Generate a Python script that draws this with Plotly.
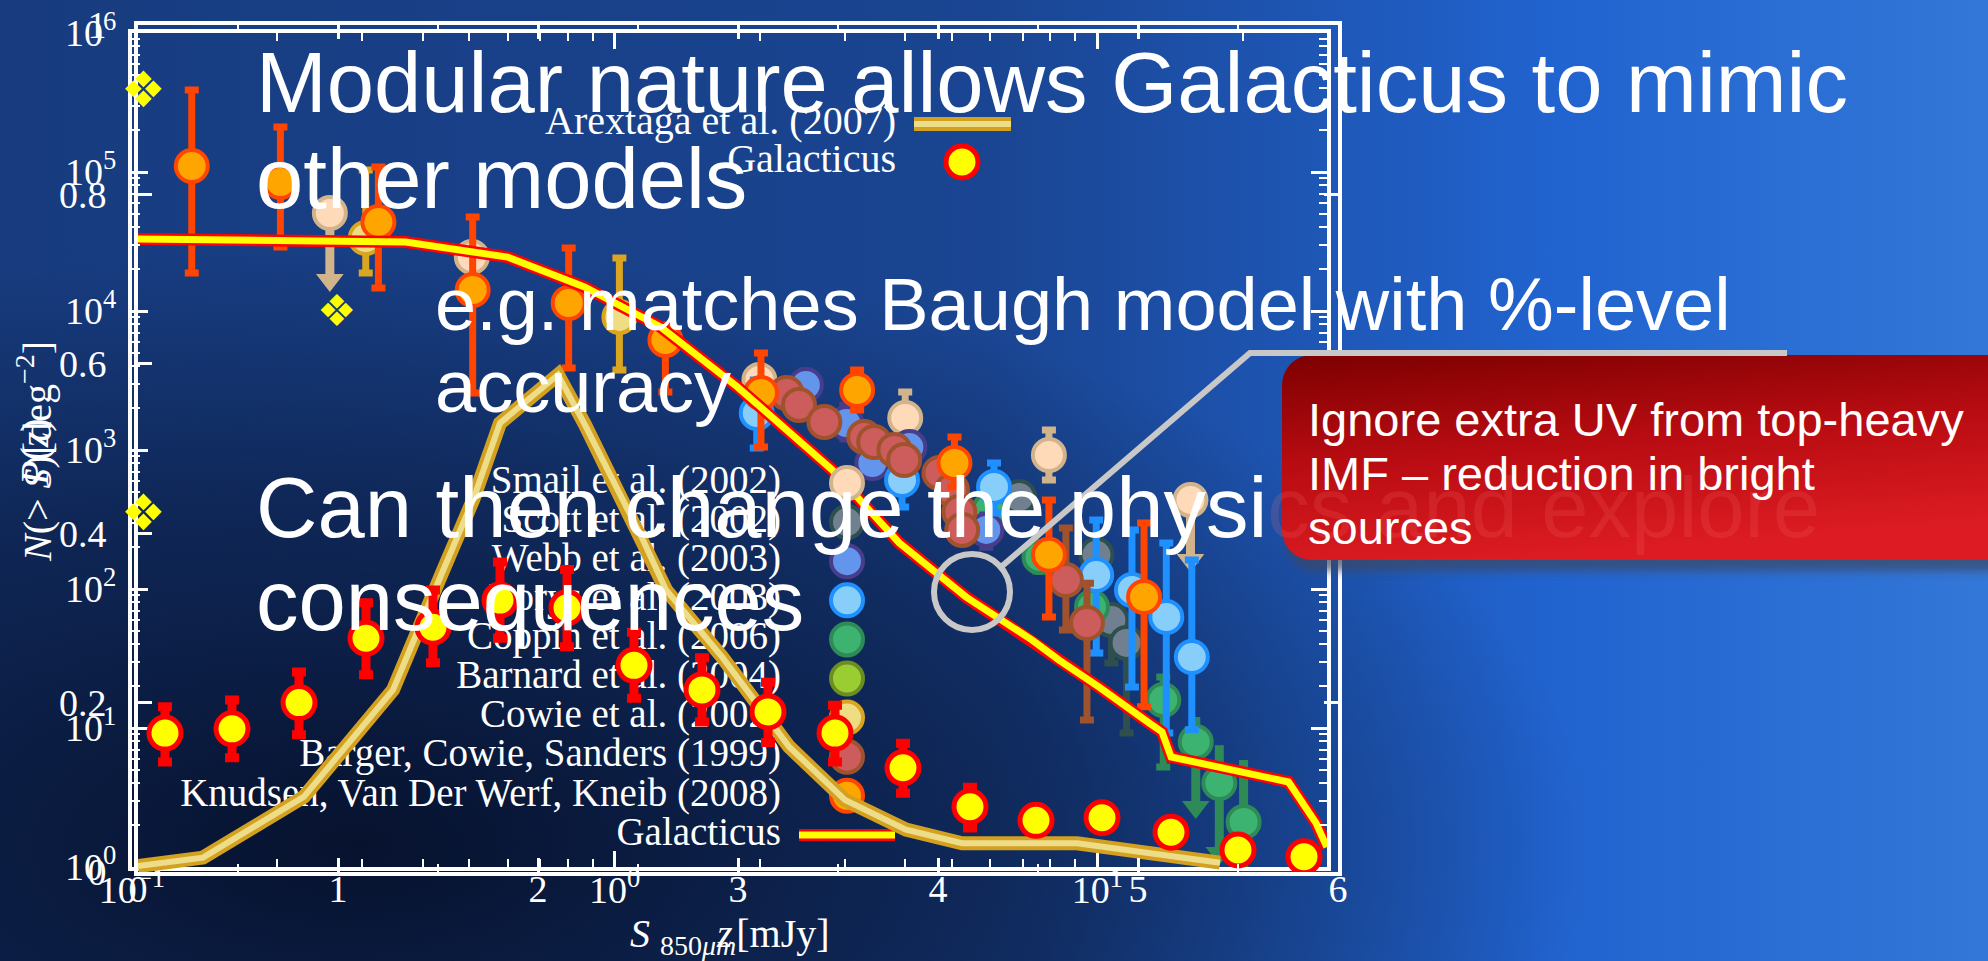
import base64
import plotly.graph_objects as go

W, H = 1988, 961

# ---------------- Number counts: N(>S) [deg^-2] versus S_850um [mJy] ----------------
knudsen_S = [0.133, 0.203, 0.324, 0.508, 0.803, 1.274, 2.01, 3.18, 5.06, 7.94, 12.5]
knudsen_N = [110400, 84700, 43650, 14160, 11420, 6185, 2570, 2700, 806, 176, 87.6]
knudsen_hi = [389000, 210800, 108700, 47450, 28400, 7925, 4985, 3765, 1241, 437, 298]
knudsen_lo = [18770, 28850, 14630, 2570, 3890, 2612, 1050, 1940, 542, 63, 14.2]

smail_S = [0.257, 0.506, 1.995, 4.0, 7.94, 15.6]
smail_N = [50700, 24450, 3190, 1700, 920, 437]
smail_hi = [50700, 30000, 3600, 2612, 1393, 437]
smail_lo = [16700, 20000, 2800, 1180, 608, 162]
smail_limit = [True, False, False, False, False, True]

cowie_S = [0.305, 1.023]
cowie_N = [33500, 9060]
cowie_hi = [103300, 24050]
cowie_lo = [18770, 3765]

barger_S = [2.27, 2.41, 2.72, 3.29, 3.45, 3.80, 3.98, 4.71, 5.00, 5.18, 5.25, 8.61, 9.52]
barger_N = [2570, 2110, 1590, 1241, 1142, 1000, 847, 684, 515, 358, 266, 116, 56.9]
barger_hi = [2950, 2420, 1830, 1430, 1310, 1150, 975, 790, 600, 415, 330, 275, 110]
barger_lo = [2240, 1840, 1380, 1080, 995, 870, 735, 595, 440, 300, 215, 50.7, 11.4]

webb_S = [2.49, 3.02, 3.42, 4.08, 5.89]
webb_N = [2935, 1563, 806, 1050, 266]
webb_hi = [3700, 2100, 1000, 1300, 340]
webb_lo = [2300, 1200, 650, 850, 200]

borys_S = [1.97, 3.94, 6.11, 9.95, 11.8, 13.9, 15.7]
borys_N = [1846, 608, 542, 126, 98.4, 62.9, 32.4]
borys_hi = [3190, 920, 806, 313, 266, 214, 162]
borys_lo = [1033, 389, 352, 34.7, 19.7, 9.2, 9.7]

scott_S = [6.89, 9.96, 10.7, 11.5]
scott_N = [459, 176, 59.8, 40.9]
scott_hi = [560, 215, 75, 52]
scott_lo = [375, 34.7, 29.4, 9.2]

coppin_S = [5.97, 7.59, 9.75, 13.7, 16.0, 17.9, 20.1]
coppin_N = [370, 170, 74.2, 15.9, 7.93, 4.02, 2.11]
coppin_hi = [450, 210, 92, 23.3, 12.0, 7.5, 5.89]
coppin_lo = [300, 135, 58, 5.24, 2.70, 1.26, 0.72]
coppin_limit = [False, False, False, False, True, True, True]

gal_counts_S = [0.1029, 0.369, 0.600, 0.866, 1.245, 1.499, 1.797, 2.826, 3.889, 5.352,
                7.332, 8.335, 10.09, 12.80, 13.62, 14.22, 24.9, 25.8, 28.4, 29.9]
gal_counts_N = [32960, 31330, 24430, 14890, 7674, 4667, 2838, 717.8, 214.3, 87.5,
                42.9, 30.8, 19.7, 10.9, 9.36, 6.19, 4.09, 3.41, 2.07, 1.39]

# ---------------- Redshift distribution P(z) ----------------
arex_z = [0.0, 0.325, 0.83, 1.275, 1.52, 1.675, 1.81, 2.10, 2.235, 2.525, 2.64, 2.92,
          3.255, 3.535, 3.84, 4.12, 4.695, 5.41]
arex_P = [0.007, 0.017, 0.089, 0.215, 0.353, 0.439, 0.530, 0.587, 0.528, 0.392, 0.333, 0.254,
          0.148, 0.085, 0.050, 0.034, 0.034, 0.011]

gal_z = [-0.04, 0.135, 0.47, 0.805, 1.14, 1.475, 1.81, 2.145, 2.48, 2.82, 3.15, 3.485,
         3.825, 4.16, 4.49, 4.82, 5.165, 5.5, 5.83]
gal_P = [0.006, 0.164, 0.169, 0.200, 0.276, 0.289, 0.321, 0.312, 0.244, 0.215, 0.189, 0.164,
         0.123, 0.077, 0.061, 0.064, 0.047, 0.026, 0.018]
gal_P_hi = [0.006, 0.195, 0.203, 0.236, 0.318, 0.333, 0.366, 0.357, 0.283, 0.253, 0.224, 0.197,
            0.152, 0.100, 0.073, 0.074, 0.052, 0.030, 0.021]
gal_P_lo = [0.006, 0.130, 0.135, 0.162, 0.233, 0.247, 0.276, 0.266, 0.205, 0.177, 0.153, 0.130,
            0.093, 0.052, 0.049, 0.054, 0.042, 0.022, 0.015]

# ---------------- Tick labels ----------------
counts_xtick_vals = [0.1, 1, 10]
counts_xtick_text = ["10<sup>−1</sup>", "10<sup>0</sup>", "10<sup>1</sup>"]
counts_ytick_vals = [1, 10, 100, 1000, 10000, 100000, 1000000]
counts_ytick_text = ["10<sup>0</sup>", "10<sup>1</sup>", "10<sup>2</sup>", "10<sup>3</sup>",
                     "10<sup>4</sup>", "10<sup>5</sup>", "10<sup>6</sup>"]
pz_xtick_vals = [0, 1, 2, 3, 4, 5, 6]
pz_xtick_text = ["0", "1", "2", "3", "4", "5", "6"]
pz_ytick_vals = [0, 0.2, 0.4, 0.6, 0.8, 1.0]
pz_ytick_text = ["0", "0.2", "0.4", "0.6", "0.8", "1"]

# ---------------- Legends ----------------
legend_a_labels = ["Smail et al. (2002)", "Scott et al. (2002)", "Webb et al. (2003)",
                   "Borys et al. (2003)", "Coppin et al. (2006)", "Barnard et al. (2004)",
                   "Cowie et al. (2002)", "Barger, Cowie, Sanders (1999)",
                   "Knudsen, Van Der Werf, Kneib (2008)", "Galacticus"]
legend_a_fill = ["#FFDAB9", "#708090", "#6495ED", "#87CEFA", "#3CB371", "#9ACD32",
                 "#EEDD82", "#CD5C5C", "#FFA500"]
legend_a_edge = ["#D2B48C", "#2F4F4F", "#483D8B", "#1E90FF", "#2E8B57", "#6B8E23",
                 "#DAA520", "#A0522D", "#FF4500"]
legend_b_labels = ["Arextaga et al. (2007)", "Galacticus"]

# slide text
slide_lines = ["Modular nature allows Galacticus to mimic", "other models",
               "e.g. matches Baugh model with %-level", "accuracy",
               "Can then change the physi", "consequences"]
callout_lines = ["Ignore extra UV from top-heavy", "IMF – reduction in bright", "sources"]

# ---------------- styling / layout constants ----------------
SERIF = "Liberation Serif"
SANS = "Liberation Sans"
A_X = (132, 1327)   # pixel extents of the counts frame
A_Y = (33, 867)
B_X = (138, 1338)   # pixel extents of the P(z) frame
B_Y = (25, 872)
MSIZE = 32

fig = go.Figure()


def add_points(S, N, hi, lo, fill, edge, bar, xa, ya, limit=None, size=MSIZE, lw=4,
               thick=7, capw=7):
    n = len(S)
    lim = limit if limit is not None else [False] * n
    norm = [i for i in range(n) if not lim[i]]
    lims = [i for i in range(n) if lim[i]]
    if lims:
        fig.add_trace(go.Scatter(
            x=[S[i] for i in lims], y=[lo[i] for i in lims], mode="markers",
            marker=dict(symbol="triangle-down", size=24, color=bar),
            xaxis=xa, yaxis=ya, hoverinfo="skip"))
        fig.add_trace(go.Scatter(
            x=[S[i] for i in lims], y=[N[i] for i in lims], mode="markers",
            marker=dict(size=size, color=fill, line=dict(color=edge, width=lw)),
            error_y=dict(type="data", symmetric=False,
                         array=[hi[i] - N[i] for i in lims],
                         arrayminus=[N[i] - lo[i] for i in lims],
                         color=bar, thickness=thick + 2, width=0),
            xaxis=xa, yaxis=ya, hoverinfo="skip"))
    if norm:
        fig.add_trace(go.Scatter(
            x=[S[i] for i in norm], y=[N[i] for i in norm], mode="markers",
            marker=dict(size=size, color=fill, line=dict(color=edge, width=lw)),
            error_y=dict(type="data", symmetric=False,
                         array=[hi[i] - N[i] for i in norm],
                         arrayminus=[N[i] - lo[i] for i in norm],
                         color=bar, thickness=thick, width=capw),
            xaxis=xa, yaxis=ya, hoverinfo="skip", cliponaxis=False))


# ---- counts plot (x, y) ----
add_points(smail_S, smail_N, smail_hi, smail_lo, "#FFDAB9", "#D2B48C", "#D2B48C", "x", "y", smail_limit)
add_points(cowie_S, cowie_N, cowie_hi, cowie_lo, "#EEDD82", "#DAA520", "#DAA520", "x", "y")
add_points(scott_S, scott_N, scott_hi, scott_lo, "#708090", "#2F4F4F", "#2F4F4F", "x", "y")
add_points(coppin_S, coppin_N, coppin_hi, coppin_lo, "#3CB371", "#2E8B57", "#2E8B57", "x", "y", coppin_limit)
add_points(webb_S, webb_N, webb_hi, webb_lo, "#6495ED", "#483D8B", "#483D8B", "x", "y")
add_points(borys_S, borys_N, borys_hi, borys_lo, "#87CEFA", "#1E90FF", "#1E90FF", "x", "y")
add_points(barger_S, barger_N, barger_hi, barger_lo, "#CD5C5C", "#A0522D", "#A0522D", "x", "y")
add_points(knudsen_S, knudsen_N, knudsen_hi, knudsen_lo, "#FFA500", "#FF4500", "#FF4500", "x", "y")

fig.add_trace(go.Scatter(x=gal_counts_S, y=gal_counts_N, mode="lines",
                         line=dict(color="#FF0000", width=12), xaxis="x", yaxis="y", hoverinfo="skip"))
fig.add_trace(go.Scatter(x=gal_counts_S, y=gal_counts_N, mode="lines",
                         line=dict(color="#FFFF00", width=7), xaxis="x", yaxis="y", hoverinfo="skip"))

# ---- legends in pixel overlay (x2, y2) ----
LEG_A_TEXT_X, LEG_A_SYM_X, LEG_A_TOP, LEG_A_STEP = 781, 847, 483, 39.1
leg_a_y = [LEG_A_TOP + LEG_A_STEP * i for i in range(len(legend_a_labels))]
fig.add_trace(go.Scatter(x=[LEG_A_TEXT_X] * len(legend_a_labels), y=leg_a_y, mode="text",
                         text=legend_a_labels, textposition="middle left",
                         textfont=dict(family=SERIF, size=39, color="white"),
                         xaxis="x2", yaxis="y2", hoverinfo="skip"))
fig.add_trace(go.Scatter(x=[LEG_A_SYM_X] * len(legend_a_fill), y=leg_a_y[:len(legend_a_fill)],
                         mode="markers",
                         marker=dict(size=MSIZE, color=legend_a_fill, line=dict(color=legend_a_edge, width=4)),
                         xaxis="x2", yaxis="y2", hoverinfo="skip"))
for col, wd in (("#FF0000", 12), ("#FFFF00", 7)):
    fig.add_trace(go.Scatter(x=[799, 895], y=[leg_a_y[-1]] * 2, mode="lines",
                             line=dict(color=col, width=wd), xaxis="x2", yaxis="y2", hoverinfo="skip"))

LEG_B_TEXT_X, LEG_B_Y = 896, [124, 162]
fig.add_trace(go.Scatter(x=[LEG_B_TEXT_X] * 2, y=LEG_B_Y, mode="text", text=legend_b_labels,
                         textposition="middle left",
                         textfont=dict(family=SERIF, size=40, color="white"),
                         xaxis="x2", yaxis="y2", hoverinfo="skip"))
for col, wd in (("#D4A020", 14), ("#EEDD88", 6)):
    fig.add_trace(go.Scatter(x=[914, 1011], y=[LEG_B_Y[0]] * 2, mode="lines",
                             line=dict(color=col, width=wd), xaxis="x2", yaxis="y2", hoverinfo="skip"))
fig.add_trace(go.Scatter(x=[962], y=[LEG_B_Y[1]], mode="markers",
                         marker=dict(size=MSIZE, color="#FFFF00", line=dict(color="#FF0000", width=5)),
                         xaxis="x2", yaxis="y2", hoverinfo="skip"))

# ---- P(z) plot (x3, y3) ----
for col, wd in (("#D4A020", 14), ("#EEDD88", 6)):
    fig.add_trace(go.Scatter(x=arex_z, y=arex_P, mode="lines", line=dict(color=col, width=wd),
                             xaxis="x3", yaxis="y3", hoverinfo="skip"))
fig.add_trace(go.Scatter(
    x=gal_z, y=gal_P, mode="markers",
    marker=dict(size=MSIZE, color="#FFFF00", line=dict(color="#FF0000", width=5)),
    error_y=dict(type="data", symmetric=False,
                 array=[h - p for h, p in zip(gal_P_hi, gal_P)],
                 arrayminus=[p - l for p, l in zip(gal_P, gal_P_lo)],
                 color="#FF0000", thickness=9, width=7),
    xaxis="x3", yaxis="y3", hoverinfo="skip", cliponaxis=False))

# ---------------- axes ----------------
def px_dom_x(a, b):
    return [a / W, b / W]


def px_dom_y(top, bottom):
    return [1 - bottom / H, 1 - top / H]


tickfont = dict(family=SERIF, size=38, color="white")
frame = dict(showline=True, linecolor="white", linewidth=4, mirror="allticks", ticks="inside",
             tickcolor="white", tickwidth=3, showgrid=False, zeroline=False, tickfont=tickfont,
             automargin=False)

minor_log_x = [m * 10.0 ** k for k in (-1, 0, 1) for m in range(2, 10)]
minor_log_y = [m * 10.0 ** k for k in range(0, 6) for m in range(2, 10)]

fig.update_layout(
    template="none",
    xaxis=dict(frame, type="log", domain=px_dom_x(*A_X), range=[-1, 1.476], anchor="y",
               tickmode="array", tickvals=counts_xtick_vals, ticktext=counts_xtick_text, ticklen=16,
               ticklabelstandoff=-14,
               minor=dict(tickmode="array", tickvals=minor_log_x, ticks="inside", ticklen=8,
                          tickwidth=2, tickcolor="white", showgrid=False)),
    yaxis=dict(frame, type="log", domain=px_dom_y(*A_Y), range=[0, 6], anchor="x",
               tickmode="array", tickvals=counts_ytick_vals, ticktext=counts_ytick_text, ticklen=16,
               ticklabelstandoff=4,
               minor=dict(tickmode="array", tickvals=minor_log_y, ticks="inside", ticklen=8,
                          tickwidth=2, tickcolor="white", showgrid=False)),
    xaxis2=dict(domain=[0, 1], range=[0, W], visible=False, anchor="y2", fixedrange=True,
                automargin=False),
    yaxis2=dict(domain=[0, 1], range=[H, 0], visible=False, anchor="x2", fixedrange=True,
                automargin=False),
    xaxis3=dict(frame, domain=px_dom_x(*B_X), range=[0, 6], anchor="y3",
                tickmode="array", tickvals=pz_xtick_vals, ticktext=pz_xtick_text, ticklen=14,
                ticklabelstandoff=-20,
                minor=dict(dtick=0.5, ticks="inside", ticklen=8, tickwidth=2, tickcolor="white",
                           showgrid=False)),
    yaxis3=dict(frame, domain=px_dom_y(*B_Y), range=[0, 1], anchor="x3",
                tickmode="array", tickvals=pz_ytick_vals, ticktext=pz_ytick_text, ticklen=14,
                ticklabelstandoff=20),
)

# ---------------- background & callout box images ----------------
bg_svg = f'''<svg xmlns="http://www.w3.org/2000/svg" width="{W}" height="{H}" viewBox="0 0 {W} {H}" preserveAspectRatio="none">
<defs>
<linearGradient id="g" x1="0" y1="0" x2="1" y2="0">
<stop offset="0" stop-color="#173b7e"/>
<stop offset="0.5" stop-color="#1a4592"/>
<stop offset="0.78" stop-color="#2163cf"/>
<stop offset="1" stop-color="#3377d8"/>
</linearGradient>
<radialGradient id="r" cx="0.18" cy="0.88" r="0.62">
<stop offset="0" stop-color="#050e26" stop-opacity="0.92"/>
<stop offset="0.6" stop-color="#050e26" stop-opacity="0.45"/>
<stop offset="1" stop-color="#050e26" stop-opacity="0"/>
</radialGradient>
</defs>
<rect width="{W}" height="{H}" fill="url(#g)"/>
<rect width="{W}" height="{H}" fill="url(#r)"/>
</svg>'''

BOX_X, BOX_Y, BOX_W, BOX_H = 1282, 350, W - 1282 + 20, 235
box_svg = f'''<svg xmlns="http://www.w3.org/2000/svg" width="{BOX_W}" height="{BOX_H}" viewBox="0 0 {BOX_W} {BOX_H}" preserveAspectRatio="none">
<defs>
<linearGradient id="b" x1="0" y1="0" x2="0.3" y2="1">
<stop offset="0" stop-color="#7d0000"/>
<stop offset="0.5" stop-color="#b80c12"/>
<stop offset="1" stop-color="#dc1c22"/>
</linearGradient>
<filter id="s" x="-10%" y="-10%" width="130%" height="140%"><feGaussianBlur stdDeviation="5"/></filter>
</defs>
<rect x="4" y="16" width="{BOX_W + 40}" height="205" rx="30" fill="#3c4660" opacity="0.7" filter="url(#s)"/>
<rect x="0" y="5" width="{BOX_W + 40}" height="205" rx="30" fill="url(#b)"/>
</svg>'''


def data_uri(svg):
    return "data:image/svg+xml;base64," + base64.b64encode(svg.encode("utf-8")).decode("ascii")


fig.update_layout(images=[
    dict(source=data_uri(bg_svg), xref="paper", yref="paper", x=0, y=1, sizex=1, sizey=1,
         xanchor="left", yanchor="top", sizing="stretch", layer="below"),
    dict(source=data_uri(box_svg), xref="paper", yref="paper", x=BOX_X / W, y=1 - BOX_Y / H,
         sizex=BOX_W / W, sizey=BOX_H / H, xanchor="left", yanchor="top", sizing="stretch",
         layer="above"),
])

# callout circle + connector
GREY = "#c8c8c8"
fig.update_layout(shapes=[
    dict(type="circle", xref="x2", yref="y2", x0=934, x1=1010, y0=554, y1=630,
         line=dict(color=GREY, width=6), layer="above"),
    dict(type="path", xref="x2", yref="y2", path="M 1001,567 L 1250,353 L 1787,353",
         line=dict(color=GREY, width=6), layer="above"),
])

# ---------------- annotations ----------------
anns = []


def ann(text, x, y, size, family=SANS, color="white", xanchor="left", angle=0):
    anns.append(dict(text=text, x=x, y=y, xref="x2", yref="y2", showarrow=False,
                     xanchor=xanchor, yanchor="middle", textangle=angle,
                     font=dict(family=family, size=size, color=color)))


# slide bullets
ann("❖", 143, 90, 50, family="DejaVu Sans", color="#FFFF00", xanchor="center")
ann("❖", 336, 310, 44, family="DejaVu Sans", color="#FFFF00", xanchor="center")
ann("❖", 143, 513, 50, family="DejaVu Sans", color="#FFFF00", xanchor="center")

ann(slide_lines[0], 254, 82, 85)
ann(slide_lines[1], 254, 178, 85)
ann(slide_lines[2], 433, 304, 74)
ann(slide_lines[3], 433, 386, 74)
ann(slide_lines[4] + "<span style='color:rgba(255,120,120,0.16)'>cs and explore</span>", 254, 507, 85)
ann(slide_lines[5], 254, 600, 85)

for i, t in enumerate(callout_lines):
    ann(t, 1306, 419 + 54 * i, 47)

# axis titles
ann("<i>N</i>(> <i>S</i>)[deg<sup>−2</sup>]", 34, 452, 40, family=SERIF, xanchor="center", angle=-90)
ann("<i>P</i>(<i>z</i>)", 34, 452, 40, family=SERIF, xanchor="center", angle=-90)
ann("<i>S</i> <sub>850<i>μm</i></sub>[mJy]", 730, 936, 40, family=SERIF, xanchor="center")
ann("<i>z</i>", 724, 933, 40, family=SERIF, xanchor="center")

fig.update_layout(annotations=anns)

fig.update_layout(width=W, height=H, autosize=False,
                  margin=dict(l=0, r=0, t=0, b=0, pad=0, autoexpand=False),
                  paper_bgcolor="#12306a", plot_bgcolor="rgba(0,0,0,0)", showlegend=False)

fig.write_html("out.html", config={"displayModeBar": False},
               post_script="document.body.style.margin='0';document.body.style.overflow='hidden';")
